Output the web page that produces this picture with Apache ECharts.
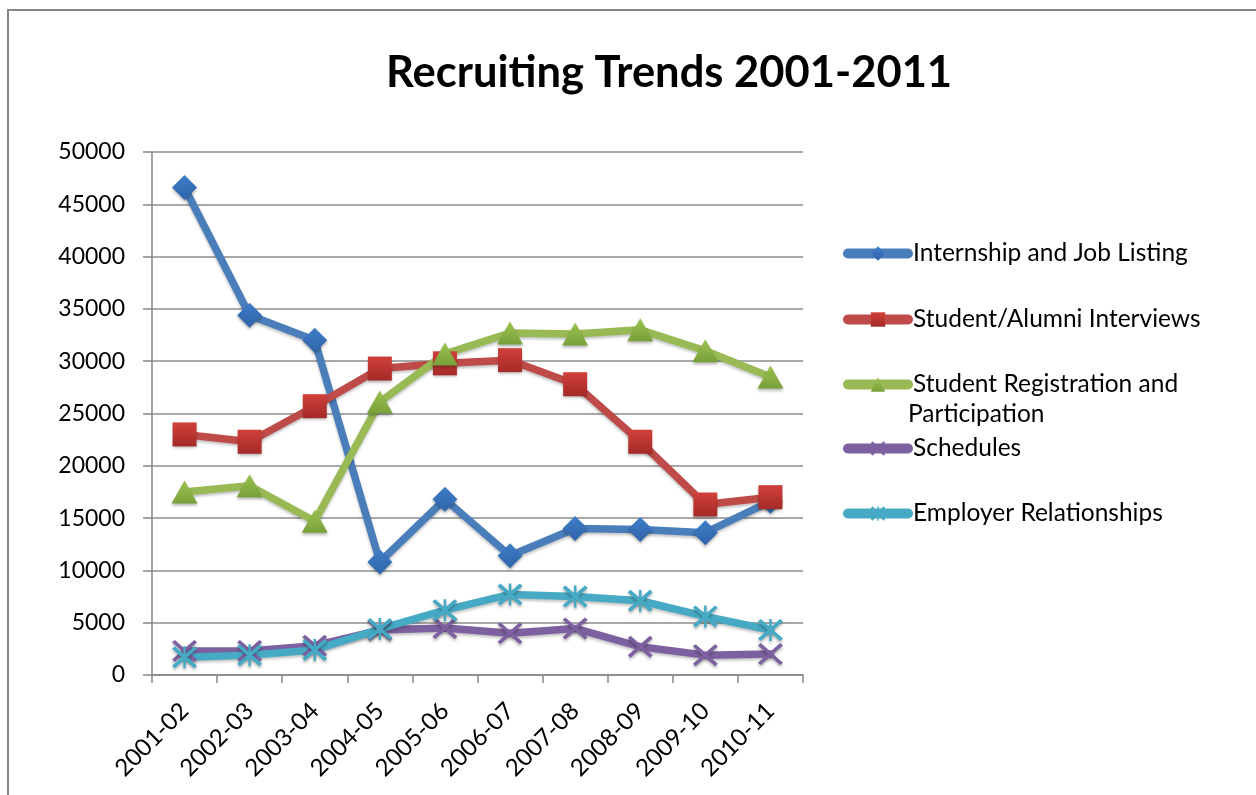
<!DOCTYPE html>
<html><head><meta charset="utf-8">
<script src="https://cdn.jsdelivr.net/npm/echarts@6/dist/echarts.min.js"></script>
<style>html,body{margin:0;padding:0;background:#fff}#c{width:1256px;height:795px}</style>
</head><body><div id="c"></div>
<script>
const categories = ['2001-02','2002-03','2003-04','2004-05','2005-06','2006-07','2007-08','2008-09','2009-10','2010-11'];
const internship = [46600, 34400, 32000, 10800, 16800, 11400, 14000, 13900, 13600, 16600];
const interviews = [23000, 22300, 25700, 29300, 29800, 30100, 27800, 22300, 16300, 17000];
const registration = [17500, 18100, 14700, 26100, 30700, 32700, 32600, 33000, 31000, 28500];
const schedules = [2300, 2300, 2800, 4300, 4500, 4000, 4450, 2700, 1900, 2000];
const employer = [1700, 1900, 2400, 4400, 6200, 7700, 7500, 7100, 5600, 4300];
const seriesNames = ['Internship and Job Listing','Student/Alumni Interviews','Student Registration and Participation','Schedules','Employer Relationships'];
const yTicks = [0,5000,10000,15000,20000,25000,30000,35000,40000,45000,50000];

const colors = ['#4A7EBB','#BE4B48','#98B954','#7D60A0','#46AAC5'];
const grad = (c1,c2)=>({type:'linear',x:0,y:0,x2:0,y2:1,colorStops:[{offset:0,color:c1},{offset:1,color:c2}]});
const xPath = 'path://M0,1.1 L1.1,0 L10,8.9 L8.9,10 Z M8.9,0 L10,1.1 L1.1,10 L0,8.9 Z';
const starPath = 'path://M0,1.1 L1.1,0 L10,8.9 L8.9,10 Z M8.9,0 L10,1.1 L1.1,10 L0,8.9 Z M4.5,0 L5.5,0 L5.5,10 L4.5,10 Z';

const datas = [internship, interviews, registration, schedules, employer];
const symbols = ['diamond','rect','triangle',xPath,starPath];
const sizes = [[25,25],[24,24],[26,23],[25,22],[25,22]];
const fills = [grad('#3F7DC9','#2E64A8'), grad('#D2403A','#A42A27'), grad('#9BC24F','#78A03A'), '#7D60A0', '#46AAC5'];

const chart = echarts.init(document.getElementById('c'));
const series = datas.map((d,i)=>({
  name: seriesNames[i], type:'line', data:d, symbol:symbols[i], symbolSize:sizes[i],
  color: colors[i],
  lineStyle:{color:colors[i], width:7.5, cap:'round', join:'round', shadowColor:'rgba(0,0,0,0.25)', shadowBlur:3, shadowOffsetY:2},
  itemStyle:{color:fills[i], opacity:1, shadowColor:'rgba(0,0,0,0.3)', shadowBlur:3, shadowOffsetY:2},
  emphasis:{disabled:true}, animation:false
}));
const legendTops = [252, 318, 383, 447, 512];
const legends = seriesNames.map((n,i)=>({
  orient:'vertical', left:843, top:legendTops[i]-11, itemWidth:60, itemHeight:18, itemGap:0, padding:0,
  data:[n], selectedMode:false,
  lineStyle:{width:10, cap:'round'},
  itemStyle:{shadowBlur:0, shadowOffsetY:0},
  formatter: (name)=> name === seriesNames[2] ? 'Student Registration and' : name,
  textStyle:{fontFamily:'Lato', fontSize:24.5, color:'#000'}
}));
chart.setOption({
  animation:false,
  title:{text:'Recruiting Trends 2001-2011', top:51, left:386, padding:0,
    textStyle:{fontFamily:'Lato', fontWeight:'bold', fontSize:43.5, color:'#000'}},
  legend: legends,
  grid:{left:152, right:453, top:152, bottom:120},
  xAxis:{type:'category', data:categories, boundaryGap:true,
    axisLine:{lineStyle:{color:'#868686', width:1.5}},
    axisTick:{show:true, length:8, alignWithLabel:false, lineStyle:{color:'#868686', width:1.5}},
    axisLabel:{rotate:45, fontFamily:'Lato', fontSize:24, color:'#000', margin:32, interval:0}},
  yAxis:{type:'value', min:0, max:50000, interval:5000,
    axisLine:{show:true, lineStyle:{color:'#868686', width:1.5}},
    axisTick:{show:true, length:9, lineStyle:{color:'#868686', width:1.5}},
    axisLabel:{fontFamily:'Lato', fontSize:23, color:'#000', margin:27, formatter:(v)=>String(v)},
    splitLine:{lineStyle:{color:'#8C8C8C', width:1.5}}},
  graphic:[
    {type:'rect', shape:{x:8, y:10, width:1300, height:900}, style:{fill:'none', stroke:'#868686', lineWidth:2}, silent:true},
    {type:'text', left:908, top:402, style:{text:'Participation', font:'24.5px Lato', fill:'#000'}}
  ],
  series: series
});
</script></body></html>
